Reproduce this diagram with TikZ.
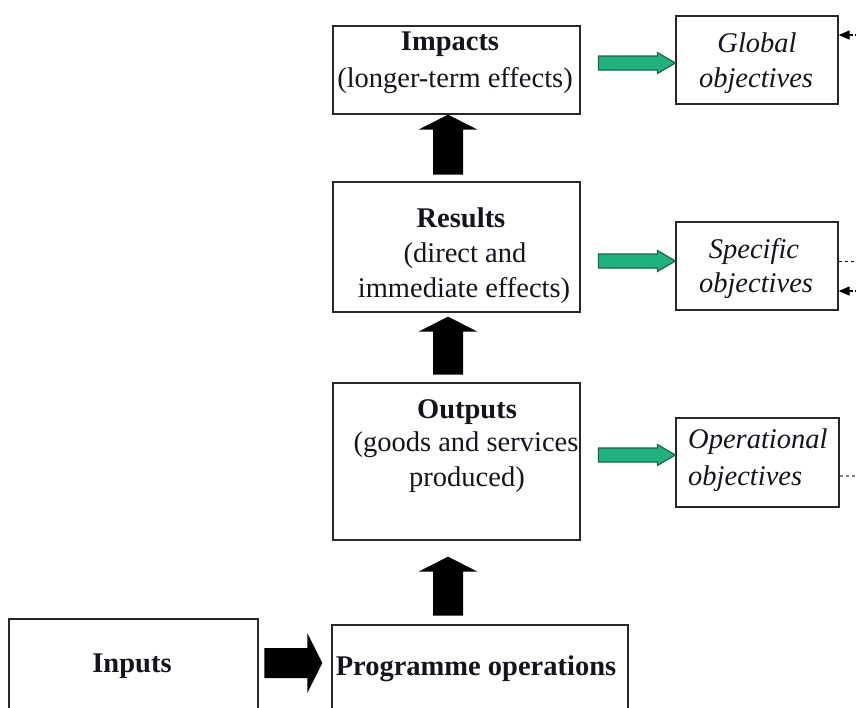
\documentclass[tikz,border=0pt]{standalone}
\usepackage{fontspec}
\setmainfont{Liberation Serif}
\usetikzlibrary{arrows.meta,calc}
\definecolor{boxc}{RGB}{40,40,40}
\definecolor{txtc}{RGB}{20,20,30}
\definecolor{gfill}{RGB}{32,178,125}
\definecolor{gdraw}{RGB}{25,100,75}
\begin{document}
\begin{tikzpicture}[x=1pt,y=-1pt,
  box/.style={draw=boxc, line width=1.3pt, inner sep=0pt, rectangle},
  txt/.style={anchor=base, inner sep=0pt, font=\fontsize{28.5}{34}\selectfont, text=txtc},
  ttl/.style={txt, font=\fontsize{28.5}{34}\selectfont\bfseries},
  obj/.style={txt, font=\fontsize{28.5}{34}\selectfont\itshape},
  fatarrow/.style={fill=black, draw=none},
  garrow/.style={fill=gfill, draw=gdraw, line width=1.2pt, line join=miter},
  dashc/.style={draw=black, dash pattern=on 3.5pt off 2.5pt, line width=1.3pt},
  smalltip/.style={{Triangle[length=11pt,width=9pt]}-}
]
\useasboundingbox (0,0) rectangle (856,707);
\clip (0,0) rectangle (856,707);

% boxes
\node[box, minimum width=247pt, minimum height=88pt]  (impacts)  at (456.5,70) {};
\node[box, minimum width=247pt, minimum height=130pt] (results)  at (456.5,247) {};
\node[box, minimum width=247pt, minimum height=157pt] (outputs)  at (456.5,461.5) {};
\node[box, minimum width=162pt, minimum height=88pt]  (global)   at (757,60) {};
\node[box, minimum width=162pt, minimum height=88pt]  (specific) at (757,266) {};
\node[box, minimum width=163pt, minimum height=89pt]  (operational) at (757.5,462.5) {};
\node[box, minimum width=249pt, minimum height=96pt]  (inputs)   at (133.5,667) {};
\node[box, minimum width=296pt, minimum height=90pt]  (prog)     at (480,670) {};

% texts
\node[ttl] (t1) at (450,50) {Impacts};
\node[txt] (t2) at (455,87) {(longer-term effects)};
\node[ttl] (t3) at (461,227) {Results};
\node[txt] (t4) at (465,262) {(direct and};
\node[txt] (t5) at (464,297) {immediate effects)};
\node[ttl] (t6) at (467,418) {Outputs};
\node[txt] (t7) at (466,451) {(goods and services};
\node[txt] (t8) at (467,486) {produced)};
\node[obj] (t9) at (757,52) {Global};
\node[obj] (t10) at (756,87) {objectives};
\node[obj] (t11) at (754,258) {Specific};
\node[obj] (t12) at (756,292) {objectives};
\node[obj, anchor=base west] (t13) at (688,448) {Operational};
\node[obj, anchor=base west] (t14) at (688,485) {objectives};
\node[ttl] (t15) at (132,672) {Inputs};
\node[ttl] (t16) at (476,675) {Programme operations};

% black fat arrows (up)
\draw[fatarrow] ([xshift=-8.5pt]impacts.south) -- ++(29.5,15) -- ++(-14.5,0) -- ++(0,45) -- ++(-30,0) -- ++(0,-45) -- ++(-14.5,0) -- cycle;
\draw[fatarrow] ([xshift=-8.5pt,yshift=-4pt]results.south) -- ++(29.5,15) -- ++(-14.5,0) -- ++(0,43) -- ++(-30,0) -- ++(0,-43) -- ++(-14.5,0) -- cycle;
\draw[fatarrow] ([xshift=-8.5pt,yshift=-16pt]outputs.south) -- ++(29.5,15) -- ++(-14.5,0) -- ++(0,44) -- ++(-30,0) -- ++(0,-44) -- ++(-14.5,0) -- cycle;
% black fat arrow (right)
\draw[fatarrow] ([xshift=-9pt,yshift=7pt]prog.west) -- ++(-15,-30) -- ++(0,15) -- ++(-43,0) -- ++(0,30) -- ++(43,0) -- ++(0,15) -- cycle;

% green arrows
\draw[garrow] ([yshift=-3pt]global.west) -- ++(-18,-10.5) -- ++(0,3.5) -- ++(-59,0) -- ++(0,14) -- ++(59,0) -- ++(0,3.5) -- cycle;
\draw[garrow] ([yshift=5pt]specific.west) -- ++(-18,-10.5) -- ++(0,3.5) -- ++(-59,0) -- ++(0,14) -- ++(59,0) -- ++(0,3.5) -- cycle;
\draw[garrow] ([yshift=7.5pt]operational.west) -- ++(-18,-10.5) -- ++(0,3.5) -- ++(-59,0) -- ++(0,14) -- ++(59,0) -- ++(0,3.5) -- cycle;

% dashed connectors on the right
\coordinate (gA) at ([yshift=25pt]global.east);
\coordinate (sA) at ([yshift=4.5pt]specific.east);
\coordinate (sB) at ([yshift=-25pt]specific.east);
\coordinate (oA) at ([yshift=-13.5pt]operational.east);
\draw[dashc, smalltip] (gA) -- ++(30,0);
\draw[dashc] (sA) -- ++(30,0);
\draw[dashc, smalltip] (sB) -- ++(30,0);
\draw[dashc, draw=gray] (oA) -- ++(30,0);
\end{tikzpicture}
\end{document}
